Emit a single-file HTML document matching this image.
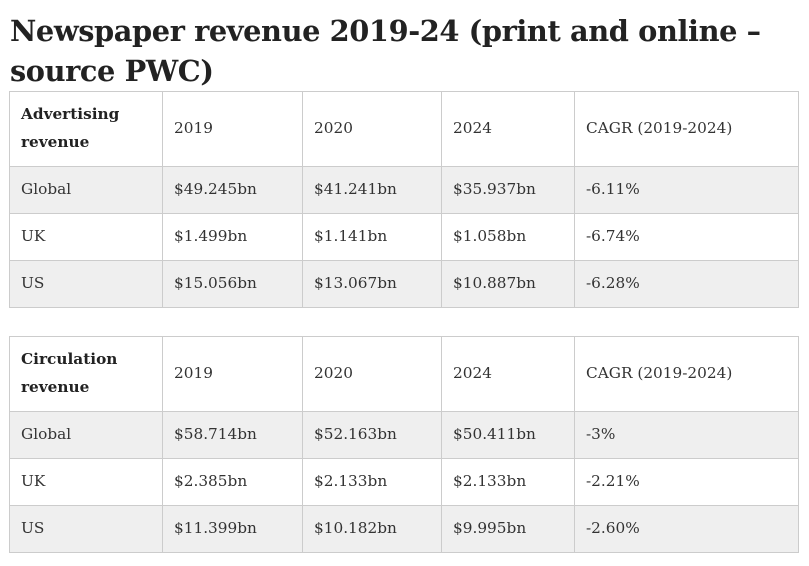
<!DOCTYPE html>
<html><head><meta charset="utf-8"><style>
body{margin:0;width:809px;height:566px;background:#fff;font-family:"DejaVu Serif","Liberation Serif",serif;color:#222;overflow:hidden;position:relative}
h1{position:absolute;left:10px;top:11px;margin:0;font-size:28.8px;line-height:40px;font-weight:bold;color:#222;letter-spacing:-0.4px;width:795px;white-space:nowrap}
table{position:absolute;left:9px;border-collapse:collapse;table-layout:fixed;font-size:15.3px;color:#333}
td{border:1px solid #ccc;padding:0 0 2px 11px;vertical-align:middle;height:44px;white-space:nowrap}
tr.h td{height:72px}
tr.h td:first-child{font-weight:bold;line-height:28px;color:#222}
tr.g td{background:#efefef}
</style></head><body>
<h1>Newspaper revenue 2019-24 (print and online –<br>source PWC)</h1>
<table style="top:91px">
<colgroup><col style="width:153px"><col style="width:140px"><col style="width:139px"><col style="width:133px"><col style="width:224px"></colgroup>
<tr class="h"><td>Advertising<br>revenue</td><td>2019</td><td>2020</td><td>2024</td><td>CAGR (2019-2024)</td></tr>
<tr class="g"><td>Global</td><td>$49.245bn</td><td>$41.241bn</td><td>$35.937bn</td><td>-6.11%</td></tr>
<tr><td>UK</td><td>$1.499bn</td><td>$1.141bn</td><td>$1.058bn</td><td>-6.74%</td></tr>
<tr class="g"><td>US</td><td>$15.056bn</td><td>$13.067bn</td><td>$10.887bn</td><td>-6.28%</td></tr>
</table>
<table style="top:336px">
<colgroup><col style="width:153px"><col style="width:140px"><col style="width:139px"><col style="width:133px"><col style="width:224px"></colgroup>
<tr class="h"><td>Circulation<br>revenue</td><td>2019</td><td>2020</td><td>2024</td><td>CAGR (2019-2024)</td></tr>
<tr class="g"><td>Global</td><td>$58.714bn</td><td>$52.163bn</td><td>$50.411bn</td><td>-3%</td></tr>
<tr><td>UK</td><td>$2.385bn</td><td>$2.133bn</td><td>$2.133bn</td><td>-2.21%</td></tr>
<tr class="g"><td>US</td><td>$11.399bn</td><td>$10.182bn</td><td>$9.995bn</td><td>-2.60%</td></tr>
</table>
</body></html>
